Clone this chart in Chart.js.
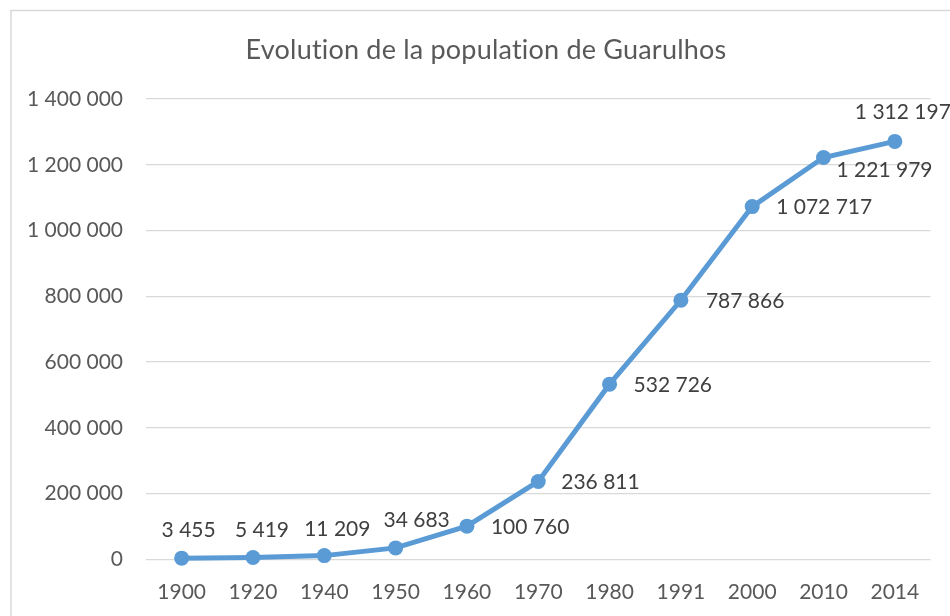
<!DOCTYPE html>
<html><head><meta charset="utf-8">
<script src="https://cdn.jsdelivr.net/npm/chart.js@4.4.1/dist/chart.umd.min.js"></script>
<style>html,body{margin:0;padding:0;background:#fff;overflow:hidden}#wrap{position:relative;width:950px;height:616px}</style>
</head><body><div id="wrap"><canvas id="c" width="950" height="616"></canvas></div>
<script>
// ---- data ----
const years = ['1900','1920','1940','1950','1960','1970','1980','1991','2000','2010','2014'];
// plotted heights (the 2014 point sits at ~1 271 000 in the picture)
const population = [3455, 5419, 11209, 34683, 100760, 236811, 532726, 787866, 1072717, 1221979, 1271000];
// data label texts as printed on the chart
const populationLabels = ['3 455','5 419','11 209','34 683','100 760','236 811','532 726','787 866','1 072 717','1 221 979','1 312 197'];
const yTickValues = [0, 200000, 400000, 600000, 800000, 1000000, 1200000, 1400000];
const chartTitle = 'Evolution de la population de Guarulhos';

const FONT = 'Lato, "Open Sans", sans-serif';
const fmt = v => String(v).replace(/\B(?=(\d{3})+(?!\d))/g, ' ');

// label placement: [mode, dx, dy]
const placement = [
  ['c', 7, -28], ['c', 9, -27], ['c', 13, -26], ['c', 21, -28],
  ['l', 24, 1], ['l', 23, 1], ['l', 24, 1], ['l', 25, 1], ['l', 24, 1],
  ['l', 13, 13], ['c', 8, -29]
];

const framePlugin = {
  id: 'frame',
  beforeDraw(chart) {
    const ctx = chart.ctx;
    ctx.save();
    ctx.fillStyle = '#fff';
    ctx.fillRect(0, 0, chart.width, chart.height);
    ctx.strokeStyle = '#d9d9d9';
    ctx.lineWidth = 1.5;
    ctx.beginPath();
    ctx.moveTo(11, chart.height);
    ctx.lineTo(11, 10.5);
    ctx.lineTo(chart.width, 10.5);
    ctx.stroke();
    // chart title, centred on the (partly cropped) chart frame
    ctx.font = '27px ' + FONT;
    ctx.fillStyle = '#595959';
    ctx.textAlign = 'center';
    ctx.textBaseline = 'alphabetic';
    try { ctx.letterSpacing = '0.2px'; } catch (e) {}
    ctx.fillText(chartTitle, 486, 59);
    ctx.restore();
  }
};

const labelPlugin = {
  id: 'valueLabels',
  afterDatasetsDraw(chart) {
    const ctx = chart.ctx;
    const meta = chart.getDatasetMeta(0);
    ctx.save();
    ctx.font = '21px ' + FONT;
    ctx.fillStyle = '#404040';
    ctx.textBaseline = 'middle';
    meta.data.forEach((pt, i) => {
      const [m, dx, dy] = placement[i];
      ctx.textAlign = m === 'c' ? 'center' : 'left';
      ctx.fillText(populationLabels[i], pt.x + dx, pt.y + dy);
    });
    ctx.restore();
  }
};

new Chart(document.getElementById('c'), {
  type: 'line',
  data: {
    labels: years,
    datasets: [{
      data: population,
      borderColor: '#5b9bd5',
      backgroundColor: '#5b9bd5',
      borderWidth: 5,
      pointRadius: 7.5,
      pointBorderWidth: 0,
      pointBackgroundColor: '#5b9bd5',
      tension: 0,
      clip: false
    }]
  },
  options: {
    responsive: false,
    devicePixelRatio: 1,
    animation: false,
    layout: { padding: { left: 10, right: 19.5, top: 99, bottom: 11.7 } },
    plugins: {
      legend: { display: false },
      tooltip: { enabled: false },
      title: { display: false }
    },
    scales: {
      x: {
        offset: true,
        grid: { display: false, drawTicks: false },
        border: { display: false },
        afterFit(axis) { axis.height = 45; },
        ticks: { color: '#595959', font: { family: FONT, size: 21 }, padding: 20, maxRotation: 0, autoSkip: false }
      },
      y: {
        min: 0, max: 1400000,
        afterBuildTicks(axis) { axis.ticks = yTickValues.map(v => ({ value: v })); },
        afterFit(axis) { axis.width = 136; },
        grid: { color: '#d9d9d9', lineWidth: 1.3, drawTicks: false },
        border: { display: false },
        ticks: { color: '#595959', font: { family: FONT, size: 21 }, padding: 23, callback: v => fmt(v) }
      }
    }
  },
  plugins: [framePlugin, labelPlugin]
});
</script>
</body></html>
